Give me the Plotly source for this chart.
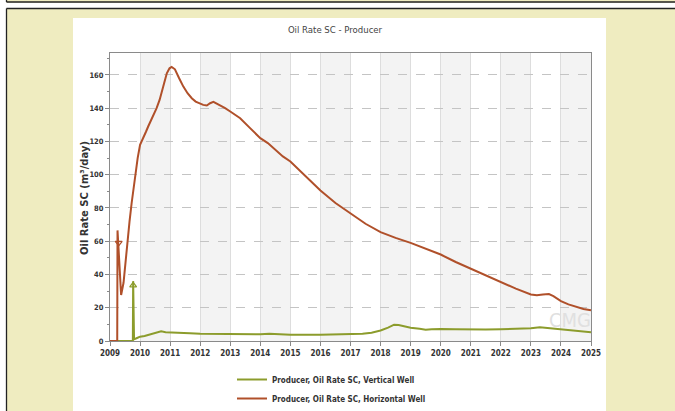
import plotly.graph_objects as go

# ---------------- data ----------------
years_h = [2009.0, 2009.24, 2009.25, 2009.37, 2009.45, 2009.55, 2009.65, 2009.72, 2009.83, 2009.92,
           2010.0, 2010.11, 2010.2, 2010.27, 2010.4, 2010.55, 2010.65, 2010.72, 2010.8, 2010.89,
           2010.98, 2011.05, 2011.16, 2011.3, 2011.44, 2011.58, 2011.72, 2011.85, 2012.0, 2012.1,
           2012.22, 2012.33, 2012.44, 2012.55, 2012.66, 2012.83, 2013.0, 2013.33, 2013.66, 2014.0,
           2014.25, 2014.5, 2014.75, 2015.0, 2015.5, 2016.0, 2016.5, 2017.0, 2017.5, 2018.0,
           2018.5, 2019.0, 2019.5, 2020.0, 2020.5, 2021.0, 2021.5, 2022.0, 2022.5, 2023.0,
           2023.2, 2023.4, 2023.6, 2023.75, 2024.0, 2024.25, 2024.5, 2024.75, 2025.0]
rate_h = [0, 0, 66.5, 27.7, 35, 55, 72, 83, 99, 110,
          118, 122, 126, 129, 134, 140, 145, 149, 155, 161,
          164, 164.8, 163.4, 158, 153, 149, 146, 144, 142.6, 142,
          141.6, 143, 143.8, 142.8, 141.4, 140, 138, 134, 128, 122,
          119, 115, 111, 108, 99, 90.5, 83, 76.5, 70.5, 65.5,
          62, 59, 55.5, 52, 47.5, 43.5, 39.5, 35.5, 31.5, 28,
          27.5, 28, 28.2, 27, 24, 22, 20.5, 19.3, 18.5]

years_v = [2009.0, 2009.76, 2009.77, 2009.80, 2009.9, 2010.0, 2010.15, 2010.33, 2010.45, 2010.6,
           2010.7, 2010.85, 2011.0, 2011.3, 2011.66, 2012.0, 2012.5, 2013.0, 2013.5, 2014.0,
           2014.3, 2014.6, 2015.0, 2016.0, 2017.0, 2017.4, 2017.7, 2018.0, 2018.25, 2018.45,
           2018.6, 2018.8, 2019.0, 2019.3, 2019.5, 2019.7, 2020.0, 2020.5, 2021.0, 2021.5,
           2022.0, 2022.5, 2023.0, 2023.3, 2023.6, 2024.0, 2024.4, 2024.7, 2025.0]
rate_v = [0, 0, 36, 1.0, 1.8, 2.6, 3.0, 4.0, 4.6, 5.6,
          5.8, 5.3, 5.1, 4.8, 4.6, 4.3, 4.2, 4.1, 4.0, 4.0,
          4.3, 3.9, 3.8, 3.8, 3.9, 4.3, 5.0, 6.3, 8.0, 9.8,
          9.6, 8.8, 8.0, 7.3, 6.8, 7.0, 7.2, 7.0, 6.8, 6.9,
          7.1, 7.3, 7.7, 8.3, 7.8, 7.0, 6.2, 5.8, 5.2]

event_h = ([2009.29], [59])
event_v = ([2009.77], [33.5])

year_ticks = list(range(2009, 2026))
y_ticks = list(range(0, 161, 20))

name_v = "Producer, Oil Rate SC, Vertical Well"
name_h = "Producer, Oil Rate SC, Horizontal Well"

# ---------------- styling ----------------
W, H = 675, 411
L, R, T, B = 110, 84, 53, 70
PW, PH = W - L - R, H - T - B
YMAX = 173.2
BROWN = "#b0502a"
GREEN = "#8c9c2c"
YELLOW = "#efecc0"
BORDER = "#222222"
NARROW = "DejaVu Sans Condensed, Liberation Sans Narrow, Liberation Sans, Arial, sans-serif"


def px(xp):
    return (xp - L) / PW


def py(yp):
    return (H - B - yp) / PH


fig = go.Figure()
fig.add_trace(go.Scatter(x=years_v, y=rate_v, mode="lines", name=name_v,
                         line=dict(color=GREEN, width=2)))
fig.add_trace(go.Scatter(x=years_h, y=rate_h, mode="lines", name=name_h,
                         line=dict(color=BROWN, width=2)))
fig.add_trace(go.Scatter(x=event_h[0], y=event_h[1], mode="markers", showlegend=False,
                         marker=dict(symbol="triangle-down-open", size=6, color=BROWN,
                                     line=dict(width=1.2, color=BROWN))))
fig.add_trace(go.Scatter(x=event_v[0], y=event_v[1], mode="markers", showlegend=False,
                         marker=dict(symbol="triangle-up-open", size=6, color=GREEN,
                                     line=dict(width=1.2, color=GREEN))))

shapes = [
    # white margin at far left and white gap between the two yellow boxes
    dict(type="rect", xref="paper", yref="paper", x0=px(0), x1=px(6), y0=py(H), y1=py(0),
         fillcolor="white", line=dict(width=0), layer="below"),
    dict(type="rect", xref="paper", yref="paper", x0=px(0), x1=px(W), y0=py(7.9), y1=py(2.6),
         fillcolor="white", line=dict(width=0), layer="below"),
    # white chart panel
    dict(type="rect", xref="paper", yref="paper", x0=px(73), x1=px(606), y0=py(H), y1=py(18),
         fillcolor="white", line=dict(width=0), layer="below"),
    # borders
    dict(type="line", xref="paper", yref="paper", x0=px(6.5), x1=px(W), y0=py(2), y1=py(2),
         line=dict(color=BORDER, width=1.3), layer="below"),
    dict(type="line", xref="paper", yref="paper", x0=px(6.5), x1=px(W), y0=py(8.5), y1=py(8.5),
         line=dict(color=BORDER, width=1.3), layer="below"),
    dict(type="line", xref="paper", yref="paper", x0=px(6.5), x1=px(6.5), y0=py(0), y1=py(2),
         line=dict(color=BORDER, width=1.3), layer="below"),
    dict(type="line", xref="paper", yref="paper", x0=px(6.5), x1=px(6.5), y0=py(8.5), y1=py(H),
         line=dict(color=BORDER, width=1.3), layer="below"),
]
for yr in range(2010, 2025, 2):
    shapes.append(dict(type="rect", xref="x", yref="paper", x0=yr, x1=yr + 1, y0=0, y1=1,
                       fillcolor="#f3f3f3", line=dict(width=0), layer="below"))

fig.update_layout(
    width=W, height=H, autosize=False,
    margin=dict(l=L, r=R, t=T, b=B, pad=0, autoexpand=False),
    paper_bgcolor=YELLOW, plot_bgcolor="white",
    shapes=shapes,
    title=dict(text="Oil Rate SC - Producer", x=(335) / W, xanchor="center",
               y=1 - 30 / H, yanchor="middle", font=dict(family=NARROW, size=9.5, color="#444")),
    xaxis=dict(range=[2009, 2025], tickvals=year_ticks, ticktext=[str(y) for y in year_ticks],
               showgrid=True, gridcolor="#dddddd", gridwidth=1,
               showline=True, linecolor="#8a8a8a", linewidth=1, mirror=True,
               ticks="outside", ticklen=4, tickcolor="#8a8a8a",
               tickfont=dict(family=NARROW, size=8, color="#333", weight="bold"),
               zeroline=False, fixedrange=True, automargin=False),
    yaxis=dict(range=[0, YMAX], tickvals=y_ticks,
               showgrid=True, gridcolor="#c4c4c4", griddash="dash", gridwidth=1,
               showline=True, linecolor="#8a8a8a", linewidth=1, mirror=True,
               ticks="outside", ticklen=4, tickcolor="#8a8a8a",
               minor=dict(dtick=10, ticks="outside", ticklen=2, tickcolor="#8a8a8a", showgrid=False),
               tickfont=dict(family=NARROW, size=7.5, color="#333", weight="bold"),
               zeroline=False, fixedrange=True, automargin=False),
    legend=dict(xref="container", yref="container", x=232 / W, y=1 - 365 / H,
                xanchor="left", yanchor="top",
                bgcolor="rgba(0,0,0,0)", font=dict(family=NARROW, size=8, color="#333", weight="bold"),
                tracegroupgap=0, itemwidth=30),
    annotations=[
        dict(text="Oil Rate SC (m³/day)", textangle=-90, xref="paper", yref="paper",
             x=px(84), y=py(198), xanchor="center", yanchor="middle", showarrow=False,
             font=dict(family="DejaVu Sans, Liberation Sans, sans-serif", size=10, color="#333", weight="bold")),
        dict(text="CMG", xref="x", yref="y", x=2024.3, y=12.5, showarrow=False,
             font=dict(family=NARROW, size=20, color="#e0e0e0")),
    ],
    showlegend=True,
)

fig.write_html("out.html")
